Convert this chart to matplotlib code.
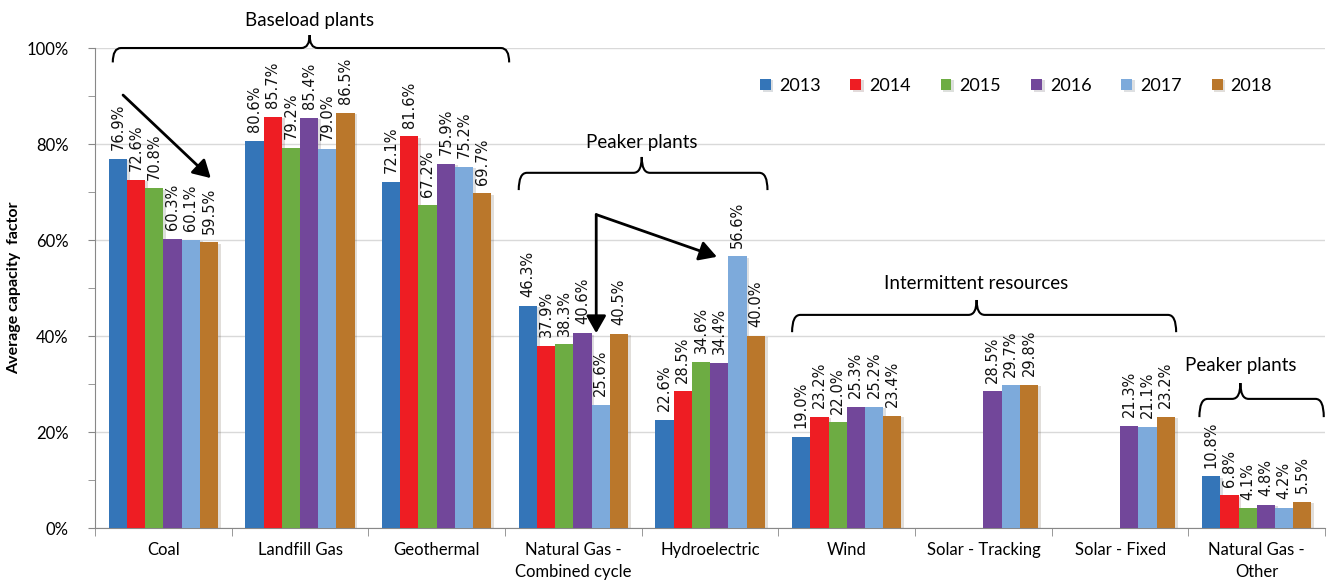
import numpy as np
import matplotlib
matplotlib.use("Agg")
import matplotlib.pyplot as plt
from matplotlib.path import Path
from matplotlib.patches import PathPatch, FancyArrowPatch
import matplotlib.patheffects as pe
from matplotlib.ticker import MultipleLocator, FuncFormatter

categories = ["Coal", "Landfill Gas", "Geothermal", "Natural Gas -\nCombined cycle",
              "Hydroelectric", "Wind", "Solar - Tracking", "Solar - Fixed",
              "Natural Gas -\nOther"]
years = ["2013", "2014", "2015", "2016", "2017", "2018"]
nan = np.nan
v2013 = [76.9, 80.6, 72.1, 46.3, 22.6, 19.0, nan, nan, 10.8]
v2014 = [72.6, 85.7, 81.6, 37.9, 28.5, 23.2, nan, nan, 6.8]
v2015 = [70.8, 79.2, 67.2, 38.3, 34.6, 22.0, nan, nan, 4.1]
v2016 = [60.3, 85.4, 75.9, 40.6, 34.4, 25.3, 28.5, 21.3, 4.8]
v2017 = [60.1, 79.0, 75.2, 25.6, 56.6, 25.2, 29.7, 21.1, 4.2]
v2018 = [59.5, 86.5, 69.7, 40.5, 40.0, 23.4, 29.8, 23.2, 5.5]
series = [v2013, v2014, v2015, v2016, v2017, v2018]
colors = ["#3475B8", "#EE1D23", "#6DAC43", "#72479A", "#7DAADB", "#BA772B"]

fig = plt.figure(figsize=(13.27, 5.87), dpi=100)
ax = fig.add_axes([0.0716, 0.1005, 0.927, 0.8177])

n = len(series)
bw = 0.8 / n
x = np.arange(len(categories))
shadow = [pe.SimplePatchShadow(offset=(2, -1), alpha=0.15), pe.Normal()]
handles = []
for i, (vals, c, yr) in enumerate(zip(series, colors, years)):
    pos = x - 0.4 + bw * (i + 0.5)
    bars = ax.bar(pos, vals, width=bw, color=c, label=yr, zorder=3)
    for b in bars:
        b.set_path_effects(shadow)
    handles.append(bars)
    for p, v in zip(pos, vals):
        if np.isnan(v):
            continue
        ax.text(p, v + 1.8, f"{v:.1f}%", rotation=90, ha="center", va="bottom",
                fontsize=10.5, family="DejaVu Sans", color="#111111", zorder=4)

ax.set_xlim(-0.5, len(categories) - 0.5)
ax.set_ylim(0, 100)
ax.yaxis.set_major_locator(MultipleLocator(20))
ax.yaxis.set_minor_locator(MultipleLocator(10))
ax.yaxis.set_major_formatter(FuncFormatter(lambda v, p: f"{v:.0f}%"))
ax.grid(axis="y", which="major", color="#D9D9D9", lw=1, zorder=0)
ax.tick_params(axis="y", which="both", length=5, color="#888888", labelsize=12, pad=14)
ax.set_xticks(x)
ax.set_xticklabels(categories, fontsize=12, family="Lato", linespacing=1.5)
ax.set_xticks(np.arange(-0.5, len(categories)), minor=True)
ax.tick_params(axis="x", which="major", length=0, pad=10)
ax.tick_params(axis="x", which="minor", length=6, color="#888888")
for s in ["top", "right"]:
    ax.spines[s].set_visible(False)
for s in ["left", "bottom"]:
    ax.spines[s].set_color("#888888")
for lab in ax.get_yticklabels():
    lab.set_family("Lato")
ax.set_ylabel("Average capacity  factor", fontsize=11.5, fontweight="bold", family="Lato",
              va="center")
ax.yaxis.set_label_coords(-0.0655, 0.5)

def brace(x0, x1, xc, yline, yend, ytip, r=0.06):
    verts = [(x0, yend), (x0, yline), (x0 + r, yline),
             (xc - r, yline),
             (xc, yline), (xc, ytip),
             (xc, yline), (xc + r, yline),
             (x1 - r, yline),
             (x1, yline), (x1, yend)]
    codes = [Path.MOVETO, Path.CURVE3, Path.CURVE3,
             Path.LINETO,
             Path.CURVE3, Path.CURVE3,
             Path.CURVE3, Path.CURVE3,
             Path.LINETO,
             Path.CURVE3, Path.CURVE3]
    ax.add_patch(PathPatch(Path(verts, codes), fill=False, lw=1.5, color="black",
                           clip_on=False, zorder=5))

fs_ann = 13.5
brace(-0.37, 2.53, 1.07, 100.0, 97.0, 102.7)
ax.text(1.07, 105.8, "Baseload plants", ha="center", va="center", fontsize=fs_ann, family="Lato", clip_on=False)
brace(2.60, 4.42, 3.50, 74.0, 70.4, 77.3)
ax.text(3.50, 80.3, "Peaker plants", ha="center", va="center", fontsize=fs_ann, family="Lato")
brace(4.60, 7.41, 5.95, 44.4, 40.8, 47.5)
ax.text(5.95, 51.0, "Intermittent resources", ha="center", va="center", fontsize=fs_ann, family="Lato")
brace(7.58, 8.49, 7.88, 26.9, 23.1, 30.2)
ax.text(7.88, 33.8, "Peaker plants", ha="center", va="center", fontsize=fs_ann, family="Lato")

def arrow(p0, p1):
    ax.add_patch(FancyArrowPatch(p0, p1, arrowstyle="-|>,head_length=7,head_width=4",
                                 lw=2, color="black", shrinkA=0, shrinkB=0,
                                 mutation_scale=1.5, zorder=6, clip_on=False))

arrow((-0.295, 90.2), (0.347, 72.9))
arrow((3.167, 65.3), (3.167, 40.6))
arrow((3.167, 65.3), (4.05, 56.5))

fig.legend(handles=handles, labels=years, ncol=6, frameon=False,
           loc="center", bbox_to_anchor=(1016 / 1327, 1 - 86 / 587),
           handlelength=0.6, handleheight=0.6, handletextpad=0.45,
           columnspacing=1.65, prop={"family": "Lato", "size": 13})

fig.savefig("out.png", dpi=100)
